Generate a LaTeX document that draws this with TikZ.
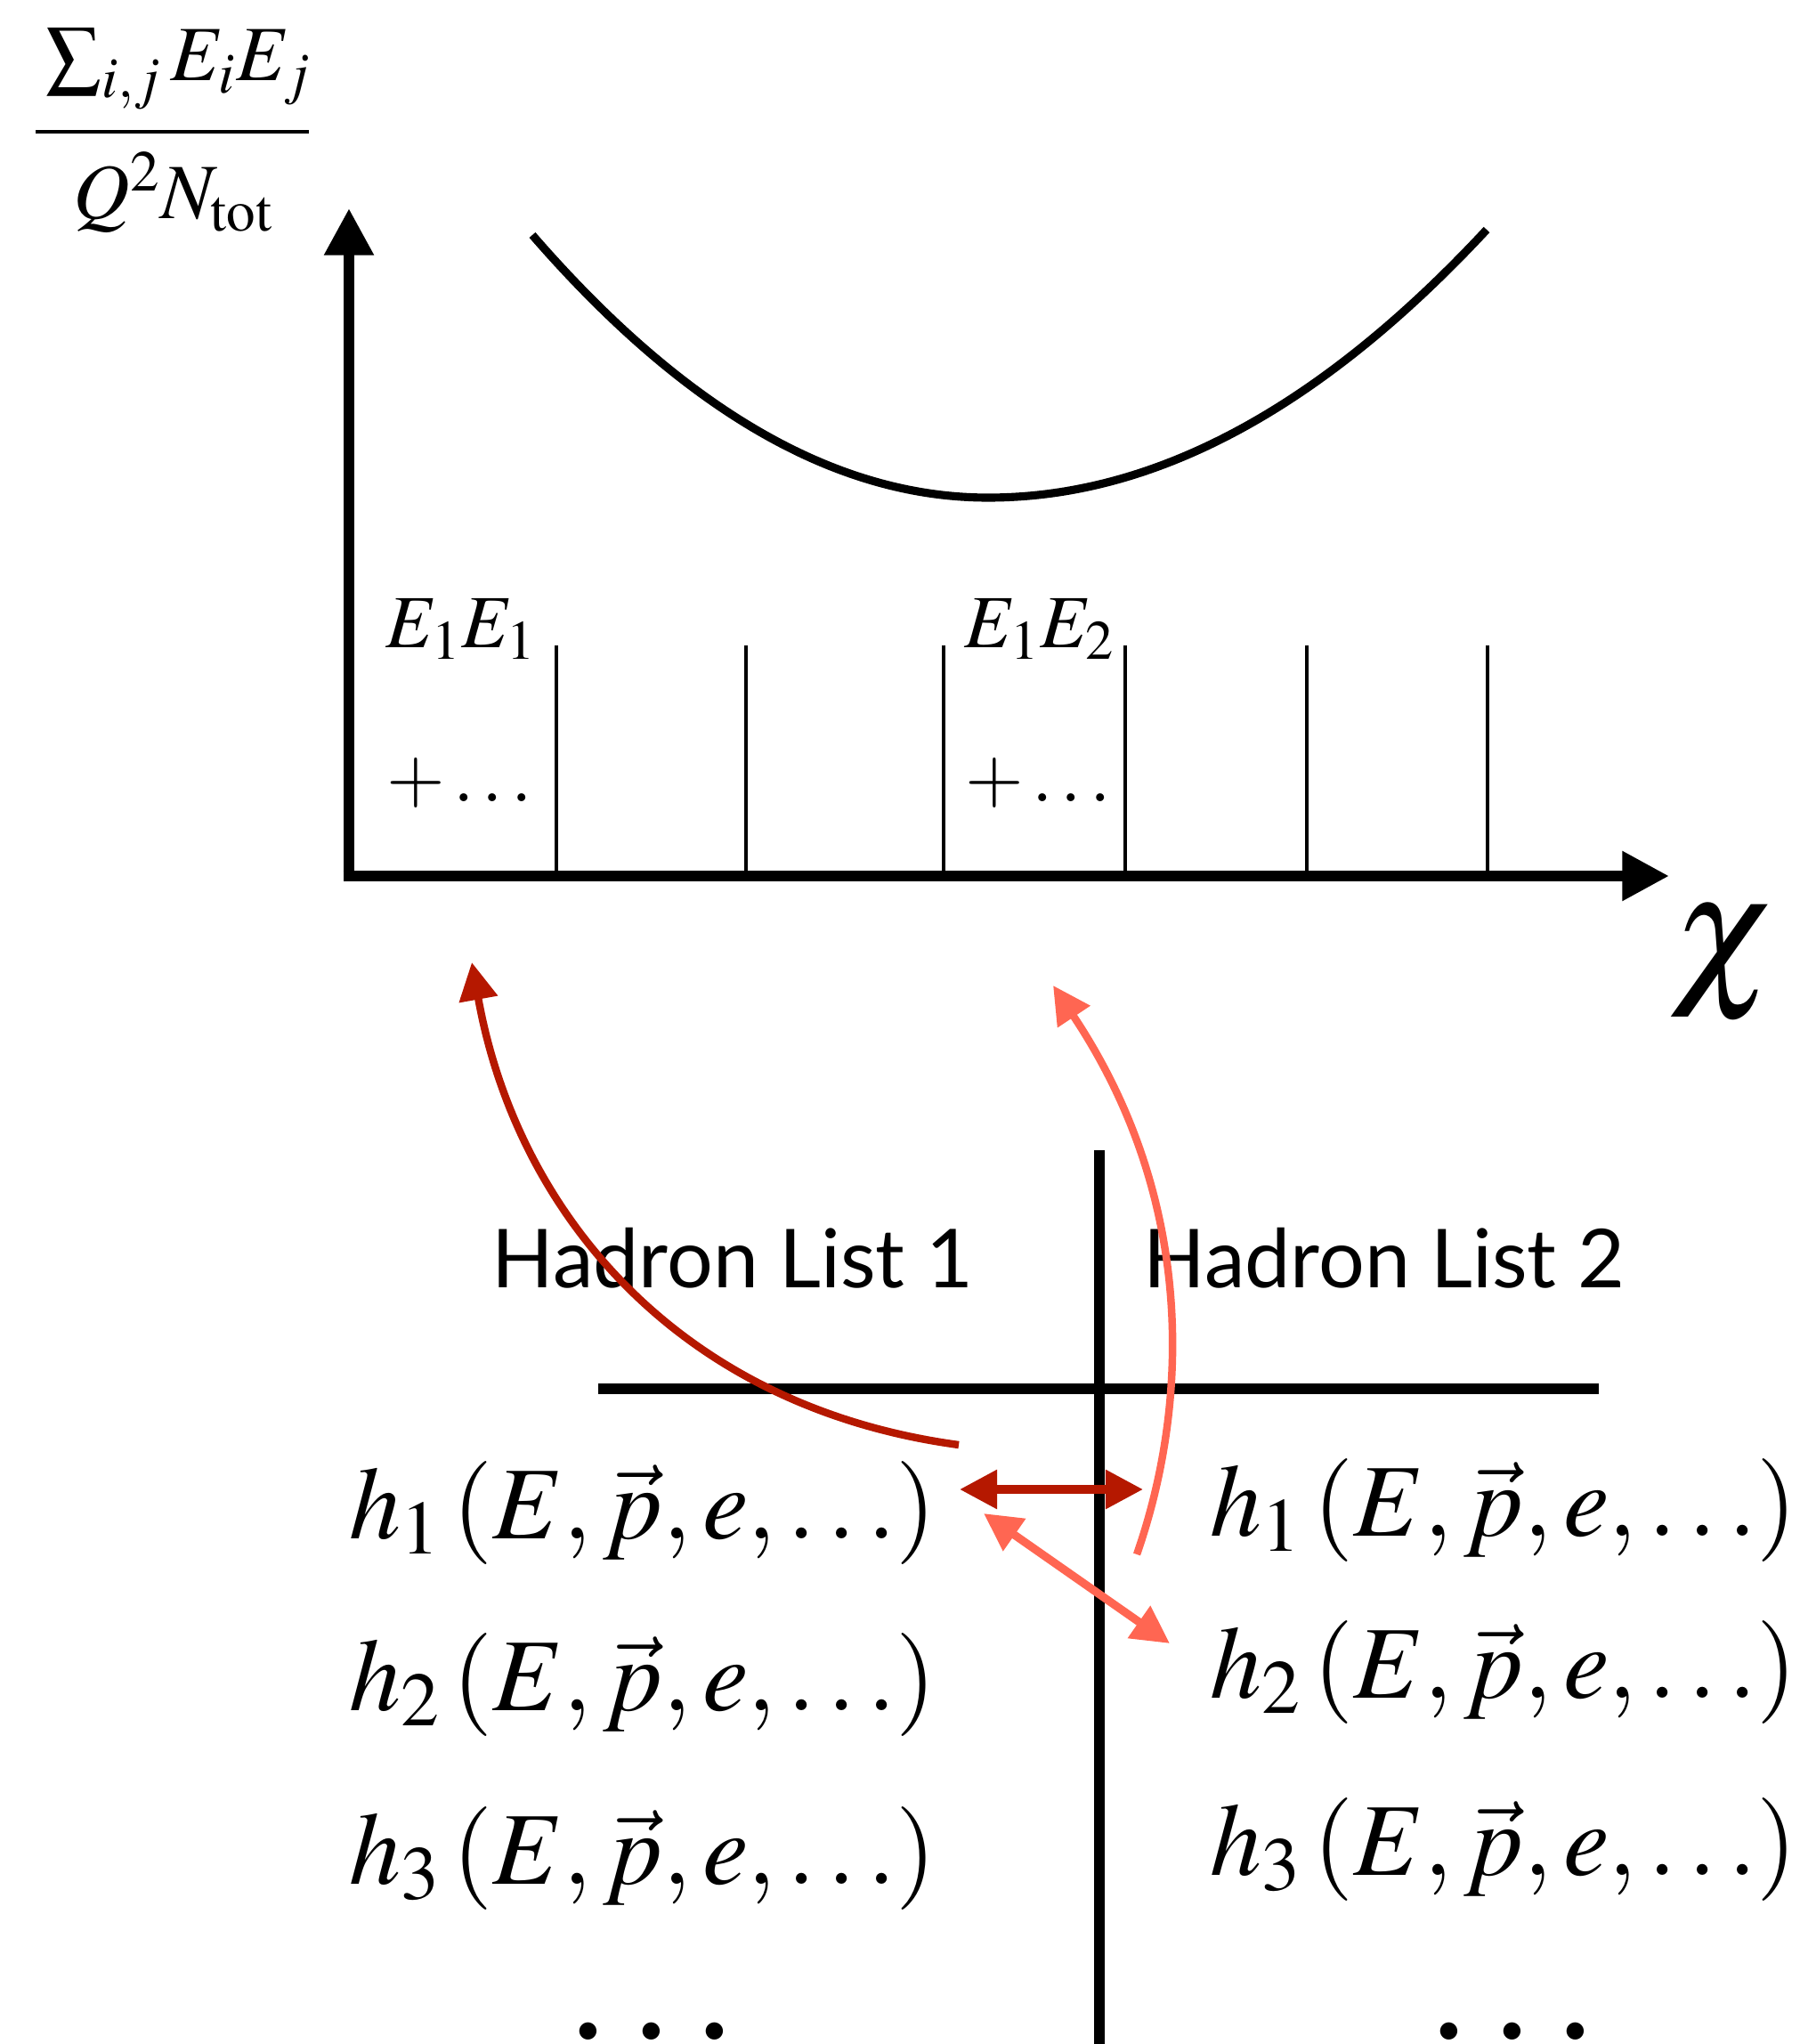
\documentclass[tikz,border=0pt]{standalone}
\usepackage{mathptmx}
\usepackage[no-math]{fontspec}
\newfontfamily\listfont{Lato}
\usetikzlibrary{arrows.meta}
\definecolor{dred}{RGB}{181,24,0}
\definecolor{lred}{RGB}{255,102,82}

\begin{document}
\begin{tikzpicture}[
  axis/.style={line width=3.6pt, -{Triangle[length=15pt,width=15pt]}},
  bin/.style={line width=1.4pt},
  rule/.style={line width=3.4pt},
  ylab/.style={inner sep=0pt, anchor=base, font=\fontsize{25}{29}\selectfont},
  lbl/.style={inner sep=0pt, font=\fontsize{24}{28}\selectfont},
  row/.style={inner sep=0pt, anchor=west, font=\fontsize{33}{37}\selectfont},
  head/.style={inner sep=0pt, font=\listfont\fontsize{26}{30}\selectfont},
  carr/.style={line width=2.4pt, -{Triangle[length=12pt,width=12pt]}},
  darr/.style={line width=2.6pt, {Triangle[length=12pt,width=12pt]}-{Triangle[length=12pt,width=12pt]}}
]
\useasboundingbox (0,0) rectangle (20.30,-22.96);

% plot
\node[ylab] (num) at (2.01,-0.91) {$\sum_{i,j}E_iE_j$};
\node[ylab] (den) at (1.95,-2.46) {$Q^2N_{\mathrm{tot}}$};
\coordinate (barl) at (0.40,-1.48);
\coordinate (barr) at (3.47,-1.48);
\draw[line width=1.3pt] (barl) -- (barr);
\coordinate (O) at (3.92,-9.84);
\coordinate (ytip) at (3.92,-2.34);
\coordinate (xtip) at (18.75,-9.84);
\draw[axis] (O) -- (ytip);
\draw[axis] ([xshift=-1.8pt]O) -- (xtip);
\node[inner sep=0pt, font=\fontsize{52}{56}\selectfont] (chi) at (19.36,-10.84) {$\chi$};

\draw[line width=2.6pt] (5.98,-2.64) .. controls (7.69,-4.61) and (9.39,-5.59) .. (11.10,-5.59)
  .. controls (12.97,-5.59) and (14.83,-4.59) .. (16.70,-2.58);

\foreach \x/\n in {6.25/a, 8.38/b, 10.60/c, 12.64/d, 14.68/e, 16.71/f} {
  \coordinate (bt\n) at (\x,-7.25);
  \draw[bin] (bt\n) -- (\x,-9.84);
}
\node[lbl] (e11) at (5.18,-7.07) {$E_1E_1$};
\node[lbl] (p11) at (5.16,-8.79) {$+\ldots$};
\node[lbl] (e12) at (11.68,-7.07) {$E_1E_2$};
\node[lbl] (p12) at (11.66,-8.79) {$+\ldots$};

% hadron lists
\node[head] (hl1) at (8.23,-14.13) {Hadron List 1};
\node[head] (hl2) at (15.55,-14.13) {Hadron List 2};
\coordinate (vtop) at (12.35,-12.92);
\coordinate (vbot) at (12.35,-22.96);
\coordinate (hl) at (6.72,-15.60);
\coordinate (hr) at (17.96,-15.60);
\draw[rule] (vtop) -- (vbot);
\draw[rule] (hl) -- (hr);

\node[row] (a1) at (3.92,-16.99) {$h_1\,(E,\vec{p},e,\ldots)$};
\node[row] (a2) at (3.92,-18.92) {$h_2\,(E,\vec{p},e,\ldots)$};
\node[row] (a3) at (3.92,-20.87) {$h_3\,(E,\vec{p},e,\ldots)$};
\node[row] (b1) at (13.59,-16.96) {$h_1\,(E,\vec{p},e,\ldots)$};
\node[row] (b2) at (13.59,-18.78) {$h_2\,(E,\vec{p},e,\ldots)$};
\node[row] (b3) at (13.59,-20.77) {$h_3\,(E,\vec{p},e,\ldots)$};
\node[inner sep=0pt, font=\fontsize{52}{56}\selectfont] (adots) at (7.32,-22.82) {$\ldots$};
\node[inner sep=0pt, font=\fontsize{52}{56}\selectfont] (bdots) at (16.99,-22.82) {$\ldots$};

% pairings
\coordinate (s1) at (10.77,-16.23);
\coordinate (t1) at (5.30,-10.81);
\coordinate (s2) at (12.77,-17.46);
\coordinate (t2) at (11.83,-11.07);
\coordinate (u1) at (10.78,-16.73);
\coordinate (u2) at (12.84,-16.73);
\coordinate (w1) at (11.05,-17.00);
\coordinate (w2) at (13.14,-18.46);
\draw[carr, dred] (s1) .. controls (7.60,-15.80) and (5.80,-13.60) .. (t1);
\draw[carr, lred] (s2) .. controls (13.35,-15.80) and (13.45,-13.50) .. (t2);
\draw[darr, dred] (u1) -- (u2);
\draw[darr, lred] (w1) -- (w2);
\end{tikzpicture}
\end{document}
